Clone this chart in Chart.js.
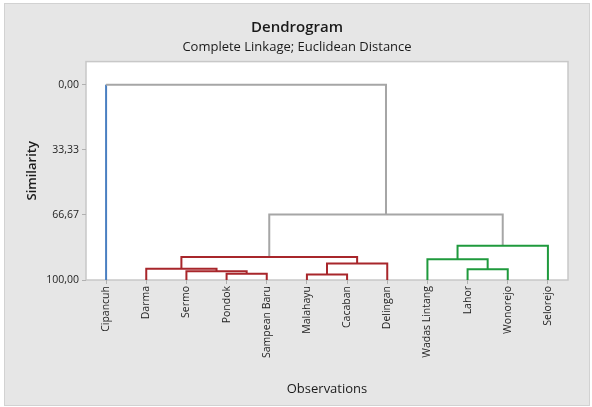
<!DOCTYPE html>
<html>
<head>
<meta charset="utf-8">
<script src="https://cdn.jsdelivr.net/npm/chart.js@4/dist/chart.umd.min.js"></script>
<style>
    html, body { margin: 0; padding: 0; background: #fff; }
    #frame {
        position: absolute; left: 4px; top: 3px;
        width: 584px; height: 401px;
        background: #e6e6e6; border: 1px solid #d2d2d2;
    }
    canvas { display: block; }
</style>
</head>
<body>
<div id="frame"><canvas id="dendro" width="584" height="401"></canvas></div>
<script>
// Leaves of the tree, left to right
const leaves = ['Cipancuh', 'Darma', 'Sermo', 'Pondok', 'Sampean Baru', 'Malahayu',
    'Cacaban', 'Delingan', 'Wadas Lintang', 'Lahor', 'Wonorejo', 'Selorejo'];
const leafCluster = [0, 1, 1, 1, 1, 1, 1, 1, 2, 2, 2, 2];

// Merge steps: node ids 0..11 are leaves, 12.. are merges in this order
const mergeLeft = [3, 5, 2, 1, 13, 9, 8, 18, 15, 20, 0];
const mergeRight = [4, 6, 12, 14, 7, 10, 17, 11, 16, 19, 21];
const mergeSimilarity = [96.8, 97.2, 95.5, 94.3, 91.6, 94.5, 89.4, 82.5, 88.2, 66.5, 0];

const yTicks = [0, 33.33, 66.67, 100];

const clusterColors = ['#4a7fc1', '#a8262b', '#1f9a3d'];
const linkGray = '#a6a6a6';
const FONT = 'Open Sans';

// work out position / height / cluster of every node
const nodeX = leaves.map((_, i) => i);
const nodeY = leaves.map(() => 100);
const nodeCluster = leafCluster.slice();
mergeLeft.forEach((l, i) => {
    const r = mergeRight[i];
    nodeX.push((nodeX[l] + nodeX[r]) / 2);
    nodeY.push(mergeSimilarity[i]);
    nodeCluster.push(nodeCluster[l] === nodeCluster[r] ? nodeCluster[l] : -1);
});
const colorOf = c => c < 0 ? linkGray : clusterColors[c];

const datasets = mergeLeft.map((l, i) => {
    const r = mergeRight[i];
    const id = leaves.length + i;
    const own = colorOf(nodeCluster[id]);
    // leaf arms keep their own cluster colour, inner arms take the parent's
    const armColor = c => c < leaves.length ? colorOf(nodeCluster[c]) : own;
    const colors = [armColor(l), own, armColor(r)];
    return {
        data: [
            { x: nodeX[l], y: nodeY[l] },
            { x: nodeX[l], y: nodeY[id] },
            { x: nodeX[r], y: nodeY[id] },
            { x: nodeX[r], y: nodeY[r] }
        ],
        borderWidth: 2,
        pointRadius: 0,
        borderCapStyle: 'butt',
        borderJoinStyle: 'miter',
        tension: 0,
        clip: false,
        borderColor: own,
        segment: { borderColor: ctx => colors[ctx.p0DataIndex] }
    };
});

const plotFrame = {
    id: 'plotFrame',
    beforeDraw(chart) {
        const a = chart.chartArea;
        const ctx = chart.ctx;
        ctx.save();
        ctx.fillStyle = '#ffffff';
        ctx.fillRect(a.left, a.top, a.right - a.left, a.bottom - a.top);
        ctx.strokeStyle = '#c8c8c8';
        ctx.lineWidth = 1.5;
        ctx.strokeRect(a.left, a.top, a.right - a.left, a.bottom - a.top);
        ctx.restore();
    }
};

new Chart(document.getElementById('dendro'), {
    type: 'line',
    data: { datasets },
    plugins: [plotFrame],
    options: {
        responsive: false,
        animation: false,
        layout: { padding: 0 },
        plugins: {
            legend: { display: false },
            tooltip: { enabled: false },
            title: {
                display: true,
                text: 'Dendrogram',
                color: '#1a1a1a',
                font: { family: FONT, size: 15, weight: '600' },
                padding: { top: 15, bottom: 2 }
            },
            subtitle: {
                display: true,
                text: 'Complete Linkage; Euclidean Distance',
                color: '#1a1a1a',
                font: { family: FONT, size: 13 },
                padding: { top: 0, bottom: 7 }
            }
        },
        scales: {
            x: {
                type: 'linear',
                min: -0.5,
                max: 11.5,
                afterBuildTicks: axis => { axis.ticks = leaves.map((_, i) => ({ value: i })); },
                afterFit: axis => { axis.height = 125; },
                ticks: {
                    autoSkip: false,
                    minRotation: 90,
                    maxRotation: 90,
                    padding: 2,
                    color: '#1e1e1e',
                    font: { family: FONT, size: 10.5 },
                    callback: v => leaves[v]
                },
                grid: { drawOnChartArea: false, drawTicks: true, tickLength: 4, color: '#b0b0b0' },
                border: { display: false },
                title: {
                    display: true,
                    text: 'Observations',
                    color: '#1a1a1a',
                    font: { family: FONT, size: 13 },
                    padding: { top: 0, bottom: 8 }
                }
            },
            y: {
                type: 'linear',
                reverse: true,
                min: -11.8,
                max: 100,
                afterBuildTicks: axis => { axis.ticks = yTicks.map(v => ({ value: v })); },
                afterFit: axis => { axis.width = 81; },
                ticks: {
                    padding: 3,
                    color: '#1e1e1e',
                    font: { family: FONT, size: 10.5 },
                    callback: v => v.toFixed(2).replace('.', ',')
                },
                grid: { drawOnChartArea: false, drawTicks: true, tickLength: 4, color: '#b0b0b0' },
                border: { display: false },
                title: {
                    display: true,
                    text: 'Similarity',
                    color: '#1a1a1a',
                    font: { family: FONT, size: 13, weight: '600' },
                    padding: { top: 19, bottom: 0 }
                }
            },
            // empty right-hand strip so the titles centre on the whole figure
            yRight: {
                position: 'right',
                display: true,
                afterFit: axis => { axis.width = 21; },
                ticks: { display: false },
                grid: { display: false },
                border: { display: false }
            }
        }
    }
});
</script>
</body>
</html>
